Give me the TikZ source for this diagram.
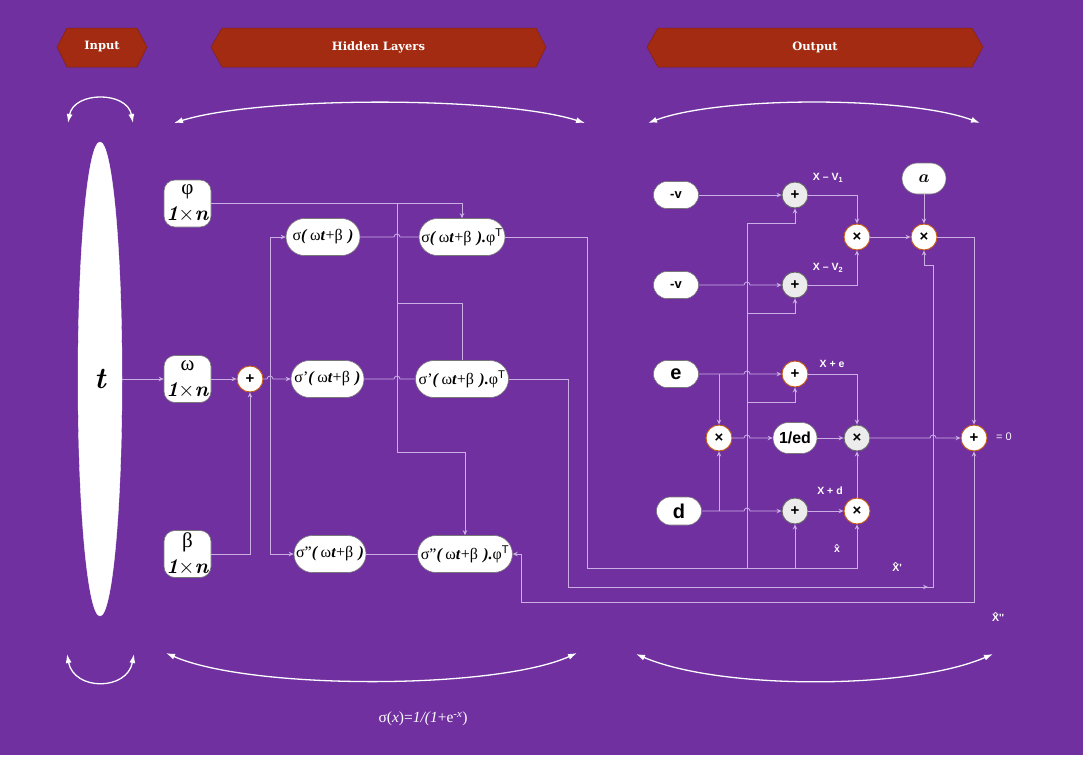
\documentclass[tikz,border=0pt]{standalone}
\usepackage{amsmath}
\usepackage{fontspec}
\newfontfamily\hdfont{DejaVu Serif}
\newfontfamily\arialf{Liberation Sans}
\newfontfamily\grk{Liberation Serif}
\usetikzlibrary{shapes.misc,shapes.geometric,arrows.meta}
\definecolor{bgp}{RGB}{112,48,160}
\definecolor{bannerc}{RGB}{163,43,18}
\definecolor{wirec}{RGB}{203,175,228}
\definecolor{orangec}{RGB}{197,90,17}
\definecolor{boxb}{RGB}{120,120,120}
\definecolor{grayf}{RGB}{236,236,236}
\newcommand{\hopx}[2]{-- ({#1-3},#2) arc[start angle=180,end angle=0,radius=3pt]}
\newcommand{\bi}[1]{\textbf{\textit{#1}}}
\newcommand{\argt}{\bi{(}\,{\grk ω}\bi{t}+{\grk β}\,\,\bi{)}}
\newcommand{\argtt}{\bi{(}\,{\grk ω}\bi{t}+{\grk β}\,\,\bi{).}{\grk φ}\textsuperscript{\arialf T}}
\tikzset{
  wire/.style={draw=wirec, line width=0.8pt},
  arr/.style={-{Stealth[length=5pt,width=4.5pt]}},
  barr/.style={{Stealth[length=5pt,width=4.5pt]}-{Stealth[length=5pt,width=4.5pt]}},
  bigarc/.style={draw=white, line width=1.3pt, {Latex[length=9pt,width=6pt]}-{Latex[length=9pt,width=6pt]}},
  banner/.style={fill=bannerc, draw=bannerc!80!black, line width=0.5pt},
  bannertext/.style={text=white, font=\hdfont\bfseries\fontsize{11.5}{13}\selectfont},
  pill/.style={rounded rectangle, fill=white, draw=boxb, line width=0.6pt, inner sep=1pt, minimum height=37pt, font=\grk\fontsize{16}{18}\selectfont},
  lbox/.style={rectangle, rounded corners=11pt, fill=white, draw=boxb, line width=0.6pt, inner sep=0pt, minimum width=47pt, minimum height=47pt, align=center, font=\fontsize{21}{26}\selectfont},
  obox/.style={rounded rectangle, fill=white, draw=boxb, line width=0.6pt, inner sep=1pt, minimum width=47pt, minimum height=27pt, font=\arialf\bfseries},
  ocirc/.style={circle, fill=white, draw=orangec, line width=0.9pt, minimum size=26pt, inner sep=0pt, font=\arialf\bfseries\fontsize{15}{15}\selectfont},
  gcirc/.style={circle, fill=grayf, draw=black!60, line width=0.9pt, minimum size=26pt, inner sep=0pt, font=\arialf\bfseries\fontsize{15}{15}\selectfont},
  lbl/.style={text=white, font=\arialf\bfseries\fontsize{10.5}{11}\selectfont, inner sep=0pt}
}
\begin{document}
\begin{tikzpicture}[x=1pt,y=-1pt]
\useasboundingbox (0,0) rectangle (1086,758);
\fill[white] (0,0) rectangle (1086,758);
\fill[bgp] (0,0) rectangle (1083,755);
% banners
\filldraw[banner] (57,47) -- (67,28) -- (137,28) -- (147,47) -- (137,67) -- (67,67) -- cycle;
\node[bannertext] (hin) at (102,47) {Input};
\filldraw[banner] (211,47) -- (222,28) -- (536,28) -- (546,47) -- (536,67) -- (222,67) -- cycle;
\node[bannertext] (hhid) at (378.5,47) {Hidden Layers};
\filldraw[banner] (647,47) -- (658,28) -- (972,28) -- (983,47) -- (972,67) -- (658,67) -- cycle;
\node[bannertext] (hout) at (815,47) {Output};
% arcs
\draw[bigarc] (68,123) .. controls (74,91) and (127,91) .. (133,123);
\draw[bigarc] (174,123) .. controls (260,96) and (500,96) .. (585,123);
\draw[bigarc] (648,123) .. controls (720,96) and (908,96) .. (980,123);
\draw[bigarc] (67,654) .. controls (74,691) and (127,691) .. (134,654);
\draw[bigarc] (166,653) .. controls (250,690) and (495,690) .. (577,653);
\draw[bigarc] (636,654) .. controls (720,690) and (910,690) .. (993,654);
% formula
\node[text=white, font=\grk\fontsize{15.5}{16}\selectfont] (form) at (423,719) {σ(\textit{x})=\textit{1/(1}+e\textsuperscript{-\textit{x}})};
% input
\node[ellipse, fill=white, draw=white, minimum width=44pt, minimum height=474pt, inner sep=0pt, font=\fontsize{30}{30}\selectfont\bfseries\itshape] (t) at (100,379) {t};
% left nodes
\node[lbox] (phi) at (187.5,203.5) {{\grk φ}\\\bi{1}$\times$\bi{n}};
\node[lbox] (omega) at (187.5,379) {{\grk ω}\\\bi{1}$\times$\bi{n}};
\node[lbox] (beta) at (187.5,554) {{\grk β}\\\bi{1}$\times$\bi{n}};
\node[ocirc] (plus) at (250,379) {+};
% hidden nodes
\node[pill, minimum width=76pt] (s1a) at (323,237) {σ\argt};
\node[pill, minimum width=75pt] (s1b) at (327.5,379) {σ’\argt};
\node[pill, minimum width=74pt] (s1c) at (330,554) {σ”\argt};
\node[pill, minimum width=88pt] (p1a) at (462,237) {σ\argtt};
\node[pill, minimum width=88pt] (p1b) at (462,379) {σ’\argtt};
\node[pill, minimum width=94pt] (p1c) at (465,554) {σ”\argtt};
% hidden wires
\draw[wire,arr] (t.east) -- (omega.west);
\draw[wire,arr] (omega.east) -- (plus.west);
\draw[wire,arr] (beta.east) -| (plus.south);
\draw[wire,arr] (plus.east) \hopx{270}{379} -- (s1b.west);
\coordinate (j270) at (270,379);
\draw[wire,arr] (j270) |- (s1a.west);
\draw[wire,arr] (j270) |- (s1c.west);
\draw[wire,arr] (phi.east) -| (p1a.north);
\coordinate (j397) at (397,203.5);
\draw[wire] (j397) -- (397,303) -| (p1b.north);
\draw[wire,arr] (j397) -- (397,452) -| (p1c.north);
\draw[wire] (s1a.east) \hopx{397}{237} -- (p1a.west);
\draw[wire] (s1b.east) \hopx{397}{379} -- (p1b.west);
\draw[wire] (s1c.east) -- (p1c.west);
% output nodes
\node[obox, font=\arialf\bfseries\fontsize{13}{14}\selectfont] (v1) at (676,195) {-v};
\node[obox, font=\arialf\bfseries\fontsize{13}{14}\selectfont] (v2) at (676,285) {-v};
\node[obox, font=\arialf\bfseries\fontsize{20}{20}\selectfont] (e) at (676,374) {e};
\node[obox, font=\arialf\bfseries\fontsize{20}{20}\selectfont, minimum height=28pt] (d) at (679,511) {d};
\node[obox, minimum width=46pt, minimum height=31pt, font=\fontsize{16}{16}\selectfont] (a) at (924,178.5) {$\boldsymbol{a}$};
\node[obox, minimum width=46pt, minimum height=31pt, font=\arialf\bfseries\fontsize{16}{16}\selectfont] (ed) at (795,438) {1/ed};
\node[gcirc] (av1) at (795,195) {+};
\node[gcirc] (av2) at (795,285) {+};
\node[ocirc] (m1) at (857,237) {×};
\node[ocirc] (m2) at (924,237) {×};
\node[ocirc] (ae) at (795,374) {+};
\node[ocirc] (me) at (719,438) {×};
\node[gcirc] (mg) at (857,438) {×};
\node[ocirc] (fin) at (974,438) {+};
\node[gcirc] (ad) at (795,511) {+};
\node[ocirc] (xd) at (857,511) {×};
% labels
\node[lbl] (lv1) at (828,178) {X – V\textsubscript{1}};
\node[lbl] (lv2) at (828,268) {X – V\textsubscript{2}};
\node[lbl] (le) at (832,364) {X + e};
\node[lbl] (ld) at (830,491) {X + d};
\node[lbl, text=white!90!wirec, font=\arialf\fontsize{11}{11}\selectfont] (lz) at (1004,437) {= 0};
\node[lbl] (lx) at (837,549) {\^{x}};
\node[lbl, font=\arialf\bfseries\fontsize{10.5}{11}\selectfont] (lx1) at (897,567) {\^{X}'};
\node[lbl, font=\arialf\bfseries\fontsize{10.5}{11}\selectfont] (lx2) at (998,617) {\^{X}''};
% x-hat wiring
\draw[wire,arr] (p1a.east) -- (587,237) -- (587,568) -| (xd.south);
\coordinate (jx1) at (747,568);
\coordinate (jx2) at (795,568);
\draw[wire,arr] (jx1) -- (747,223) -| (av1.south);
\draw[wire,arr] (747,313) -| (av2.south);
\draw[wire,arr] (747,402) -| (ae.south);
\draw[wire,arr] (jx2) -- (ad.south);
% x-hat prime
\draw[wire,arr] (p1b.east) -- (568,379) -- (568,587) -- (933,587) -- (933,265) -| (m2.south);
\draw[wire,arr] (915,587) -- (928,587);
% x-hat double prime
\draw[wire,barr] (p1c.east) -- (521,554) -- (521,602) -| (fin.south);
% output wires
\draw[wire,arr] (v1.east) -- (av1.west);
\draw[wire,arr] (v2.east) \hopx{747}{285} -- (av2.west);
\draw[wire,arr] (av1.east) -| (m1.north);
\draw[wire,arr] (av2.east) -| (m1.south);
\draw[wire,arr] (m1.east) -- (m2.west);
\draw[wire,arr] (a.south) -- (m2.north);
\draw[wire,arr] (e.east) \hopx{747}{374} -- (ae.west);
\draw[wire,arr] (719,374) -- (me.north);
\draw[wire,arr] (d.east) \hopx{747}{511} -- (ad.west);
\draw[wire,arr] (719,511) -- (me.south);
\draw[wire,arr] (me.east) \hopx{747}{438} -- (ed.west);
\draw[wire,arr] (ed.east) -- (mg.west);
\draw[wire,arr] (ae.east) -| (mg.north);
\draw[wire,arr] (ad.east) -- (xd.west);
\draw[wire,arr] (xd.north) -- (mg.south);
\draw[wire,arr] (mg.east) \hopx{933}{438} -- (fin.west);
\draw[wire,arr] (m2.east) -| (fin.north);
\end{tikzpicture}
\end{document}
